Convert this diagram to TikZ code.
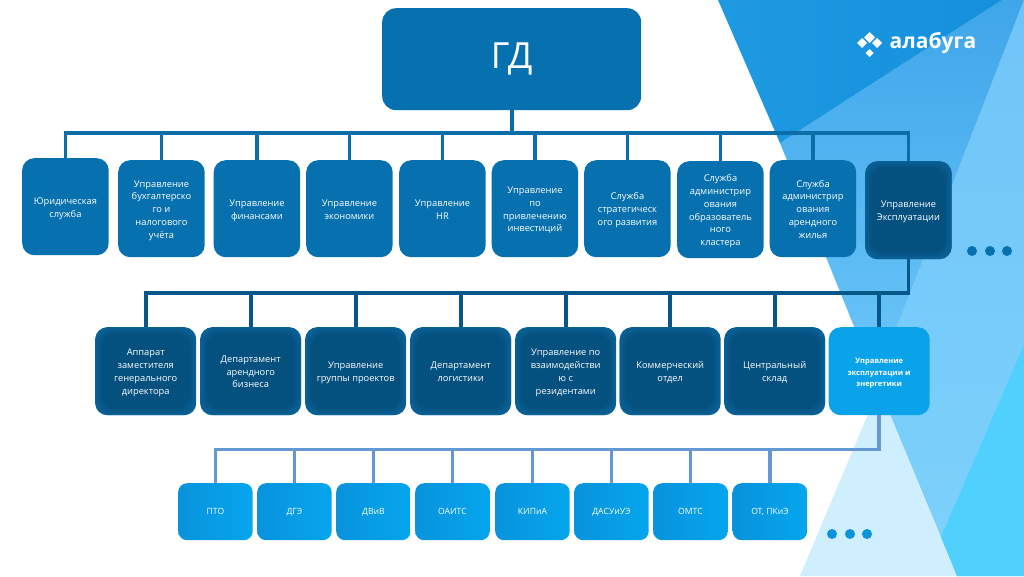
\documentclass[tikz,border=0pt]{standalone}
\usepackage{fontspec}
\setmainfont{Open Sans}
\usetikzlibrary{calc}
\newcommand{\tb}[2][3.6]{\raisebox{-#1pt}[0pt][0pt]{\setlength{\tabcolsep}{0pt}\begin{tabular}{c}#2\end{tabular}}}
\definecolor{cmain}{HTML}{0771AF}
\definecolor{cdark}{HTML}{04507F}
\definecolor{cdarkedge}{HTML}{0A6398}
\definecolor{cbright}{HTML}{0AA3EA}
\definecolor{cline}{HTML}{0B6EA9}
\definecolor{cline2}{HTML}{07568A}
\definecolor{cline3}{HTML}{6498D5}
\definecolor{csmallL}{HTML}{0893DC}
\definecolor{csmallR}{HTML}{05A6EE}
\definecolor{bgA}{HTML}{70C4F8}
\definecolor{bgB}{HTML}{7DD2FB}
\definecolor{bgC}{HTML}{3FA6EA}
\definecolor{bgD}{HTML}{6CC6F9}
\definecolor{bgE}{HTML}{1D9AE2}
\definecolor{bgF}{HTML}{1590DC}
\definecolor{bgG}{HTML}{CFEEFE}
\definecolor{bgH}{HTML}{50D0FD}
\tikzset{
  x=1pt,y=-1pt,
  bbox/.style={rounded corners=12pt,text=white,inner sep=0pt,font=\fontsize{9.3}{12.8}\selectfont,anchor=north west},
  mainbox/.style={bbox,fill=cmain},
  brightbox/.style={bbox,fill=cbright},
  smallbox/.style={bbox,rounded corners=9pt,minimum width=74.5pt,minimum height=57pt,left color=csmallL,right color=csmallR,font=\fontsize{8.6}{11}\selectfont},
  conn1/.style={draw=cline,line width=3.6pt},
  conn2/.style={draw=cline2,line width=3.6pt},
  conn3/.style={draw=cline3,line width=3.6pt},
  dotmark/.style={circle,inner sep=0pt,minimum size=10pt},
  rowone/.style={mainbox,minimum width=86.5pt,minimum height=97pt},
  rowtwo/.style={bbox,minimum width=101pt,minimum height=88pt,fill=cdarkedge,
    path picture={
      \foreach \i in {0,...,7}{
        \pgfmathsetmacro{\mixv}{\i*12.5+12.5}
        \fill[cdark!\mixv!cdarkedge,rounded corners={14pt}]
          ($(path picture bounding box.north west)+(\i,\i)$) rectangle
          ($(path picture bounding box.south east)+(-\i,-\i)$);
      }
    }},
}
\begin{document}
\begin{tikzpicture}
\useasboundingbox (0,0) rectangle (1024,576);
\fill[white] (0,0) rectangle (1024,576);
% background
\shade[top color=bgA,bottom color=bgB] (1024,0) -- (1024,576) -- (957,576) -- (876,381) -- cycle;
\shade[top color=bgC,bottom color=bgD] (1002,0) -- (1024,0) -- (876,381) -- (780,143) -- cycle;
\shade[left color=bgE,right color=bgF] (718,0) -- (1002,0) -- (780,143) -- cycle;
\fill[bgG] (879,388) -- (800,576) -- (957,576) -- cycle;
\fill[bgH] (1024,345) -- (941,537) -- (957,576) -- (1024,576) -- cycle;
% logo
\foreach \cx/\cy/\r in {869.5/37.5/5.5,862/43/5,877/43/5,869.5/53/4}
  \fill[white] (\cx-\r,\cy) -- (\cx,\cy-\r) -- (\cx+\r,\cy) -- (\cx,\cy+\r) -- cycle;
\node[text=white,inner sep=0pt,font=\bfseries\fontsize{21}{21}\selectfont] (logo) at (933,43) {алабуга};
% top box
\node[mainbox,rounded corners=14pt,minimum width=259pt,minimum height=102pt,font=\fontsize{36}{36}\selectfont] (gd) at (382,8) {ГД};
% row 1
\node[rowone] (a1) at (22,158) {\tb{Юридическая\\служба}};
\node[rowone] (a2) at (118,160) {\tb{Управление\\бухгалтерско\\го и\\налогового\\учёта}};
\node[rowone] (a3) at (213.5,160) {\tb{Управление\\финансами}};
\node[rowone] (a4) at (306,160) {\tb{Управление\\экономики}};
\node[rowone] (a5) at (399,160) {\tb{Управление\\HR}};
\node[rowone] (a6) at (491.5,160) {\tb{Управление\\по\\привлечению\\инвестиций}};
\node[rowone] (a7) at (584,160) {\tb{Служба\\стратегическ\\ого развития}};
\node[rowone] (a8) at (677,161) {\tb{Служба\\администрир\\ования\\образователь\\ного\\кластера}};
\node[rowone] (a9) at (769.5,160) {\tb{Служба\\администрир\\ования\\арендного\\жилья}};
\node[rowtwo,minimum width=86.5pt,minimum height=98pt] (a10) at (865,161) {\tb{Управление\\Эксплуатации}};
% row 2
\node[rowtwo] (b1) at (95,327) {\tb{Аппарат\\заместителя\\генерального\\директора}};
\node[rowtwo] (b2) at (200,327) {\tb{Департамент\\арендного\\бизнеса}};
\node[rowtwo] (b3) at (305,327) {\tb{Управление\\группы проектов}};
\node[rowtwo] (b4) at (410,327) {\tb{Департамент\\логистики}};
\node[rowtwo] (b5) at (515,327) {\tb{Управление по\\взаимодействи\\ю с\\резидентами}};
\node[rowtwo] (b6) at (619.5,327) {\tb{Коммерческий\\отдел}};
\node[rowtwo] (b7) at (724,327) {\tb{Центральный\\склад}};
\node[brightbox,minimum width=101pt,minimum height=88pt,font=\bfseries\fontsize{7.5}{11.5}\selectfont] (b8) at (828.5,327) {\tb{Управление\\эксплуатации и\\энергетики}};
% row 3
\node[smallbox] (c1) at (178,483) {\tb[3]{ПТО}};
\node[smallbox] (c2) at (257,483) {\tb[3]{ДГЭ}};
\node[smallbox] (c3) at (336,483) {\tb[3]{ДВиВ}};
\node[smallbox] (c4) at (415,483) {\tb[3]{ОАИТС}};
\node[smallbox] (c5) at (495,483) {\tb[3]{КИПиА}};
\node[smallbox] (c6) at (574,483) {\tb[3]{ДАСУиУЭ}};
\node[smallbox] (c7) at (653,483) {\tb[3]{ОМТС}};
\node[smallbox] (c8) at (732.5,483) {\tb[3]{ОТ, ПКиЭ}};
% connectors
\coordinate (bar1) at (0,133);
\coordinate (bar2) at (0,293);
\coordinate (bar3) at (0,449.5);
\draw[conn1] (gd.south) -- (gd.south |- bar1);
\draw[conn1,line cap=rect] (a1.north |- bar1) -- (a10.north |- bar1);
\foreach \n in {a1,a2,a3,a4,a5,a6,a7,a8,a9,a10}
  \draw[conn1] (\n.north |- bar1) -- (\n.north);
\draw[conn2,line join=miter] (a10.south) -- (a10.south |- bar2) -- (b1.north |- bar2) -- (b1.north);
\foreach \n in {b2,b3,b4,b5,b6,b7,b8}
  \draw[conn2] (\n.north |- bar2) -- (\n.north);
\draw[conn3,line join=miter] (b8.south) -- (b8.south |- bar3) -- (c1.north |- bar3) -- (c1.north);
\foreach \n in {c2,c3,c4,c5,c6,c7,c8}
  \draw[conn3] (\n.north |- bar3) -- (\n.north);
% dots
\node[dotmark,fill=cmain] (d1) at (972,251) {};
\node[dotmark,fill=cmain] (d2) at (990,251) {};
\node[dotmark,fill=cmain] (d3) at (1007,251) {};
\node[dotmark,fill=csmallL] (e1) at (832,534) {};
\node[dotmark,fill=csmallL] (e2) at (850,534) {};
\node[dotmark,fill=csmallL] (e3) at (867,534) {};
\end{tikzpicture}
\end{document}
